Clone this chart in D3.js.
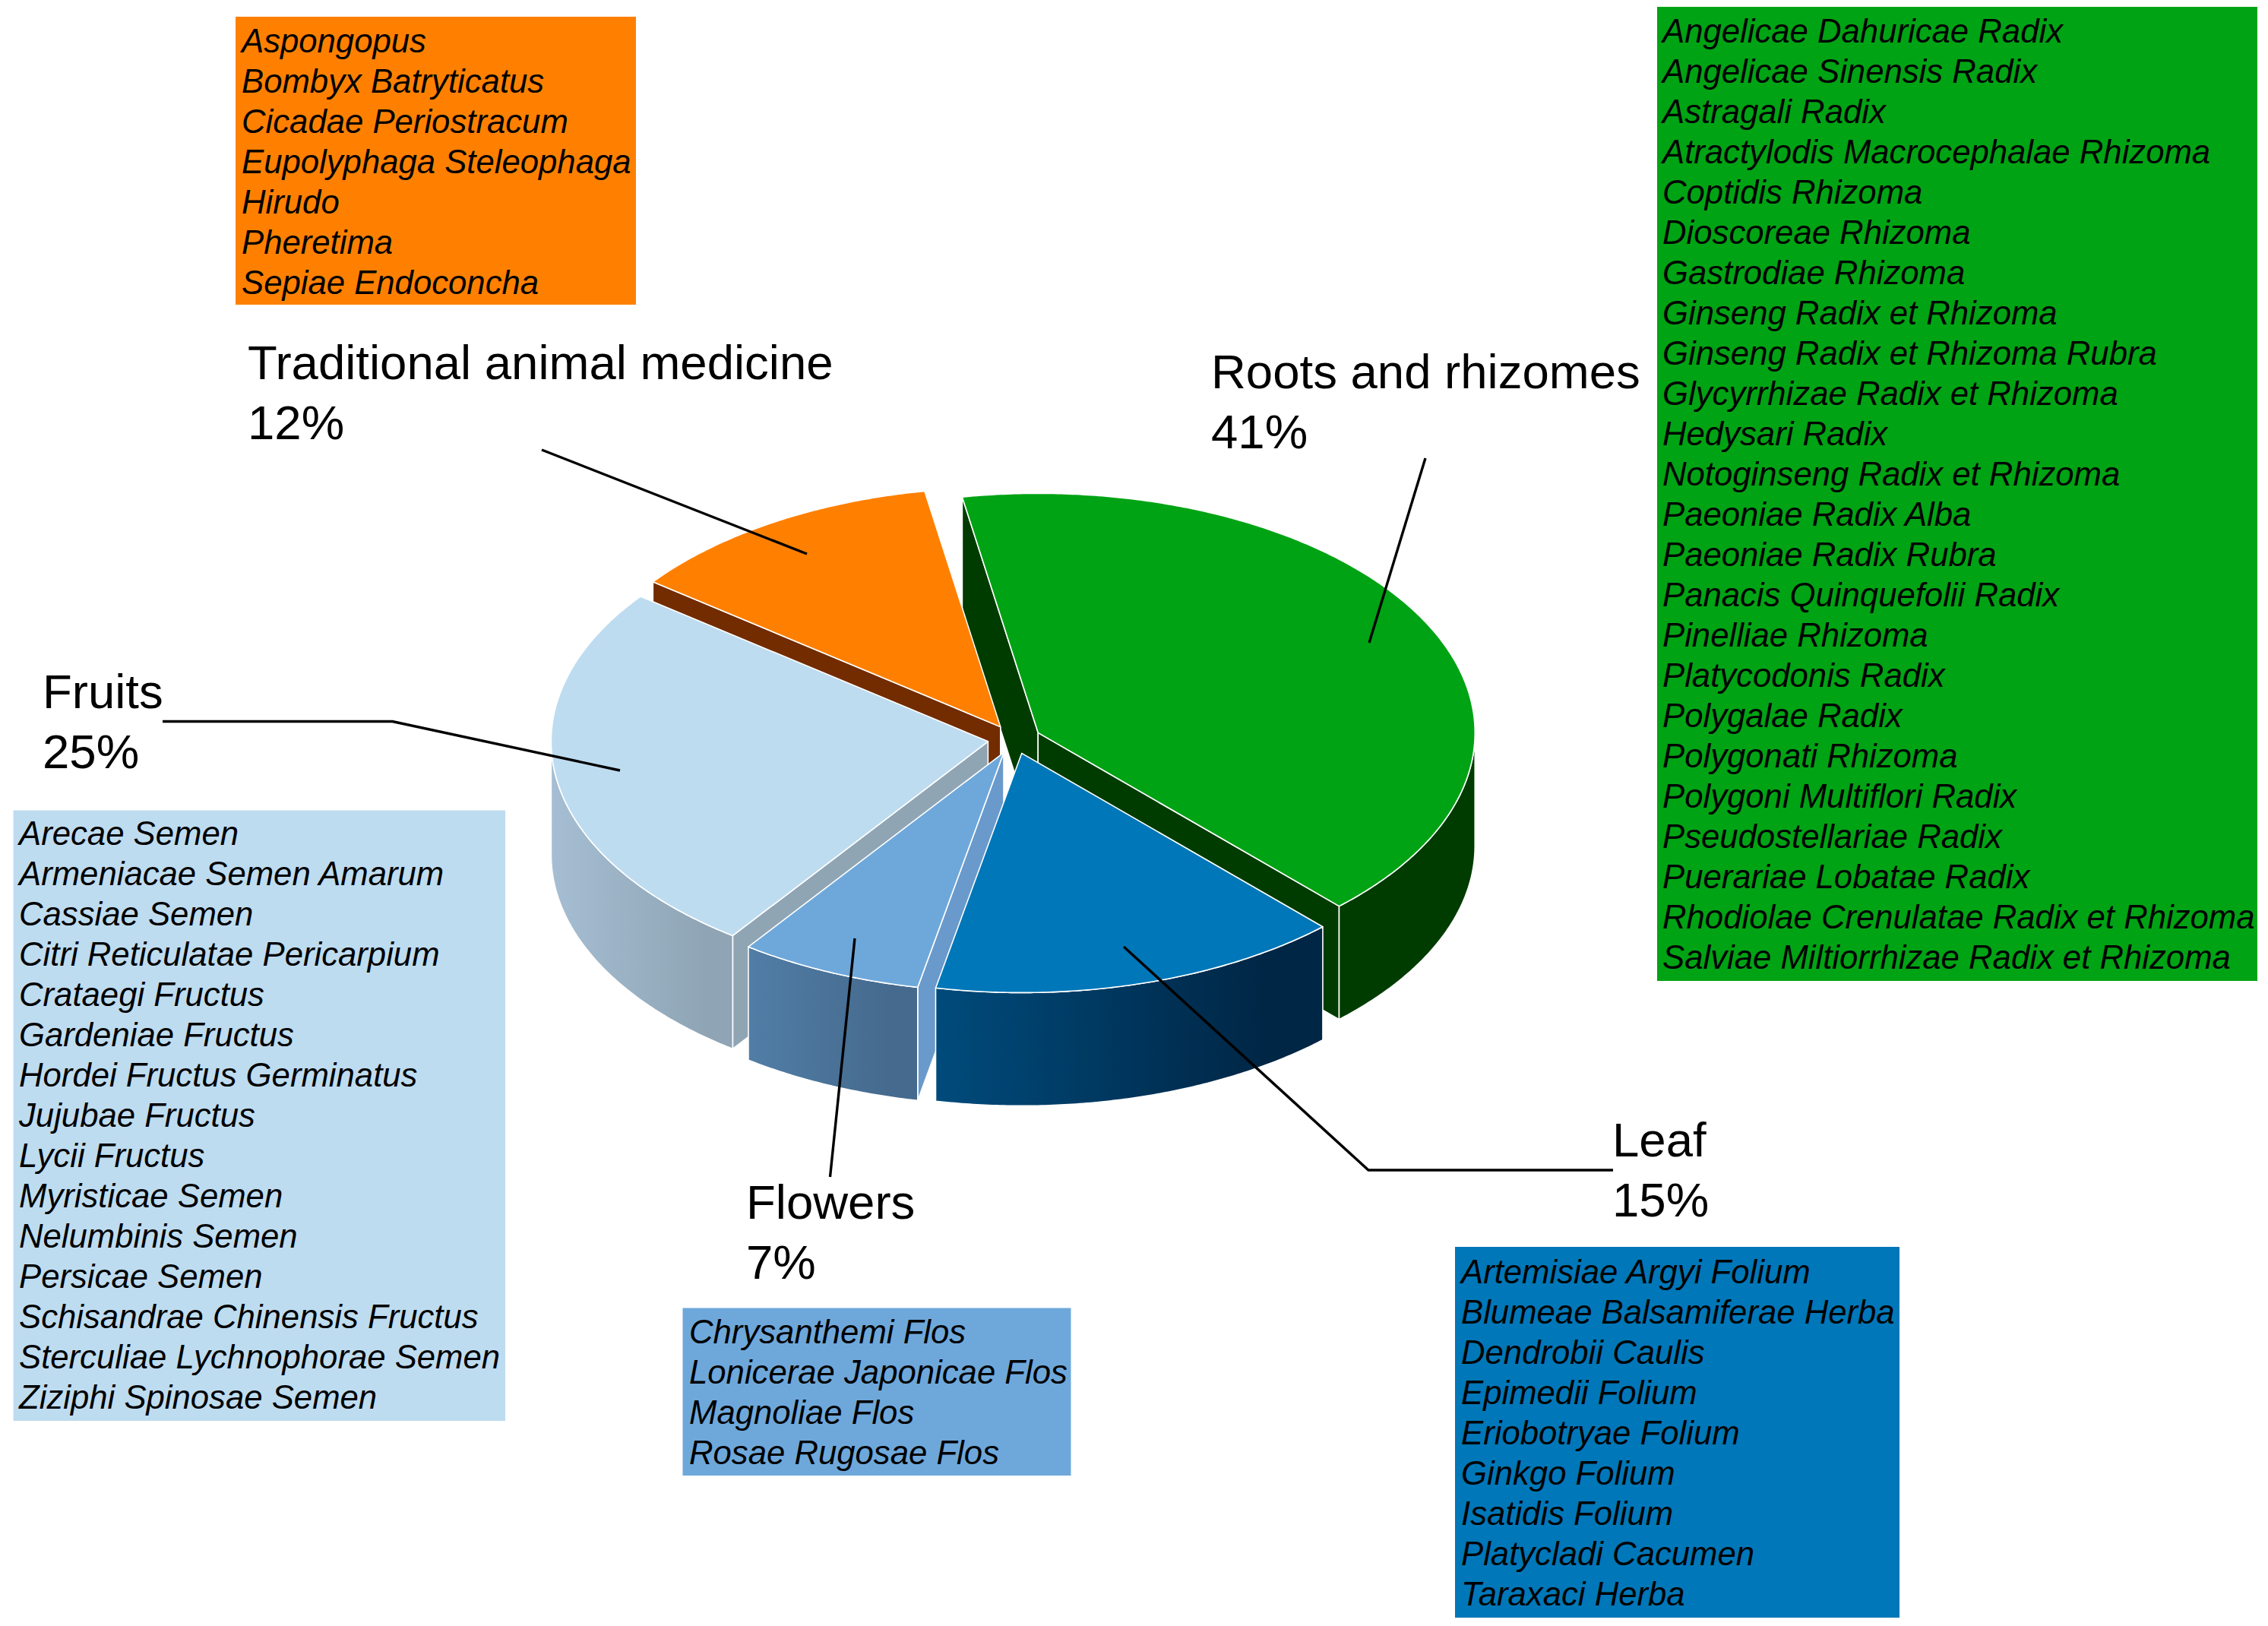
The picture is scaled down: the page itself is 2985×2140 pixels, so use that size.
<!DOCTYPE html>
<html><head><meta charset="utf-8">
<style>html,body{margin:0;padding:0;background:#fff}svg{display:block}
text{font-family:"Liberation Sans",Arial,sans-serif;fill:#000}</style>
<script src="https://cdn.jsdelivr.net/npm/d3@7/dist/d3.min.js"></script>
</head><body><div id="c"></div>
<script>
// ---- data ----
const categories = ["Roots and rhizomes","Leaf","Flowers","Fruits","Traditional animal medicine"];
const shares = [41,15,7,25,12];
const roots = ["Angelicae Dahuricae Radix","Angelicae Sinensis Radix","Astragali Radix","Atractylodis Macrocephalae Rhizoma","Coptidis Rhizoma","Dioscoreae Rhizoma","Gastrodiae Rhizoma","Ginseng Radix et Rhizoma","Ginseng Radix et Rhizoma Rubra","Glycyrrhizae Radix et Rhizoma","Hedysari Radix","Notoginseng Radix et Rhizoma","Paeoniae Radix Alba","Paeoniae Radix Rubra","Panacis Quinquefolii Radix","Pinelliae Rhizoma","Platycodonis Radix","Polygalae Radix","Polygonati Rhizoma","Polygoni Multiflori Radix","Pseudostellariae Radix","Puerariae Lobatae Radix","Rhodiolae Crenulatae Radix et Rhizoma","Salviae Miltiorrhizae Radix et Rhizoma"];
const leaf = ["Artemisiae Argyi Folium","Blumeae Balsamiferae Herba","Dendrobii Caulis","Epimedii Folium","Eriobotryae Folium","Ginkgo Folium","Isatidis Folium","Platycladi Cacumen","Taraxaci Herba"];
const flowers = ["Chrysanthemi Flos","Lonicerae Japonicae Flos","Magnoliae Flos","Rosae Rugosae Flos"];
const fruits = ["Arecae Semen","Armeniacae Semen Amarum","Cassiae Semen","Citri Reticulatae Pericarpium","Crataegi Fructus","Gardeniae Fructus","Hordei Fructus Germinatus","Jujubae Fructus","Lycii Fructus","Myristicae Semen","Nelumbinis Semen","Persicae Semen","Schisandrae Chinensis Fructus","Sterculiae Lychnophorae Semen","Ziziphi Spinosae Semen"];
const animal = ["Aspongopus","Bombyx Batryticatus","Cicadae Periostracum","Eupolyphaga Steleophaga","Hirudo","Pheretima","Sepiae Endoconcha"];
const memberLists = [roots,leaf,flowers,fruits,animal];
const counts = memberLists.map(l=>l.length);

// ---- layout & style ----
const W=2985,H=2140;
const cx=1335,cy=973,rx=575,ry=315,depth=149,explode=35;
const rad=Math.PI/180;
const styles=[
 {top:"#00A314",wall:["#003C00","#003C00"],side:"#003C00"},
 {top:"#0077B8",wall:["#004B7C","#002645"],side:"#002645"},
 {top:"#6EA8DB",wall:["#517DA6","#456A8D"],side:"#6A9ACB"},
 {top:"#BEDCF0",wall:["#A6BED3","#8FA5B5"],side:"#90A5B4"},
 {top:"#FF8000",wall:["#722C00","#722C00"],side:"#722C00"}];
const drawOrder=[0,4,3,2,1];
const boxes=[
 {x:2181,y:9,w:790,h:1282,tx:2188,ty:55.5},
 {x:1915,y:1641,w:585,h:488,tx:1923,ty:1689},
 {x:898.5,y:1721.5,w:511,h:220.5,tx:907,ty:1768},
 {x:17.5,y:1066.5,w:647.5,h:803.5,tx:25,ty:1112},
 {x:310,y:22,w:527,h:379,tx:318,ty:68.5}];
const labels=[{x:1594,y:511},{x:2122,y:1522},{x:982,y:1604},{x:56,y:932},{x:326,y:499}];
const leaders=[
 [[1876,603],[1802,846]],
 [[1479,1246],[1801,1540],[2123,1540]],
 [[1125,1235],[1092.5,1549]],
 [[214,949.5],[516.5,949.5],[816,1014]],
 [[713,592],[1062,729]]];
const listSize=43.7,listPitch=53,labelSize=63.5,labelPitch=79;

const svg=d3.select("#c").append("svg").attr("width",W).attr("height",H).attr("viewBox",`0 0 ${W} ${H}`);
const defs=svg.append("defs");
const line=d3.line();
const arcs=d3.pie().sort(null).startAngle(-10*rad).endAngle(350*rad)(counts);

arcs.forEach(a=>{
  const mid=(a.startAngle+a.endAngle)/2;
  a.ox=cx+explode*Math.sin(mid);
  a.oy=cy-explode*Math.cos(mid)*ry/rx;
});
const P=(a,t,dz=0)=>[a.ox+rx*Math.sin(t),a.oy-ry*Math.cos(t)+dz];
const sample=(t0,t1)=>{const n=Math.max(2,Math.ceil(Math.abs(t1-t0)/(0.5*rad)));return d3.range(n+1).map(k=>t0+(t1-t0)*k/n);};

const g=svg.append("g");
drawOrder.forEach(i=>{
  const a=arcs[i],s=styles[i];
  const c=[a.ox,a.oy];
  const g1=g.append("g").attr("stroke","#fff").attr("stroke-width",1.6).attr("stroke-linejoin","round");
  const wall=(t,fill)=>{
    const e=P(a,t);
    g1.append("path").attr("fill",fill)
      .attr("d",line([c,e,[e[0],e[1]+depth],[c[0],c[1]+depth]])+"Z");
  };
  // radial walls are drawn only when they face the viewer
  if(Math.sin(a.startAngle)<0) wall(a.startAngle,s.side);
  if(Math.sin(a.endAngle)>0) wall(a.endAngle,s.side);
  // outer wall on the front half of the rim
  const t0=Math.max(a.startAngle,90*rad),t1=Math.min(a.endAngle,270*rad);
  if(t1>t0){
    const ts=sample(t0,t1);
    const up=ts.map(t=>P(a,t)),dn=ts.map(t=>P(a,t,depth)).reverse();
    const xs=d3.extent(up,d=>d[0]);
    const gid="w"+i;
    const lg=defs.append("linearGradient").attr("id",gid).attr("gradientUnits","userSpaceOnUse")
      .attr("x1",xs[0]).attr("x2",xs[1]).attr("y1",0).attr("y2",0);
    lg.append("stop").attr("offset",0).attr("stop-color",s.wall[0]);
    lg.append("stop").attr("offset",0.85).attr("stop-color",s.wall[1]);
    g1.append("path").attr("fill",`url(#${gid})`).attr("d",line(up.concat(dn))+"Z");
  }
  // top face
  const rim=sample(a.startAngle,a.endAngle).map(t=>P(a,t));
  g1.append("path").attr("fill",s.top).attr("d",line([c].concat(rim))+"Z");
});

// member-list boxes, labels, leader lines
categories.forEach((cat,i)=>{
  const b=boxes[i];
  svg.append("rect").attr("x",b.x).attr("y",b.y).attr("width",b.w).attr("height",b.h).attr("fill",styles[i].top);
  svg.append("g").selectAll("text").data(memberLists[i]).join("text")
    .attr("x",b.tx).attr("y",(d,k)=>b.ty+k*listPitch)
    .attr("font-size",listSize).attr("font-style","italic").text(d=>d);
  const l=labels[i];
  svg.append("text").attr("x",l.x).attr("y",l.y).attr("font-size",labelSize).text(cat);
  svg.append("text").attr("x",l.x).attr("y",l.y+labelPitch).attr("font-size",labelSize).text(shares[i]+"%");
  svg.append("path").attr("d",line(leaders[i])).attr("fill","none").attr("stroke","#000").attr("stroke-width",3.4);
});
</script></body></html>
